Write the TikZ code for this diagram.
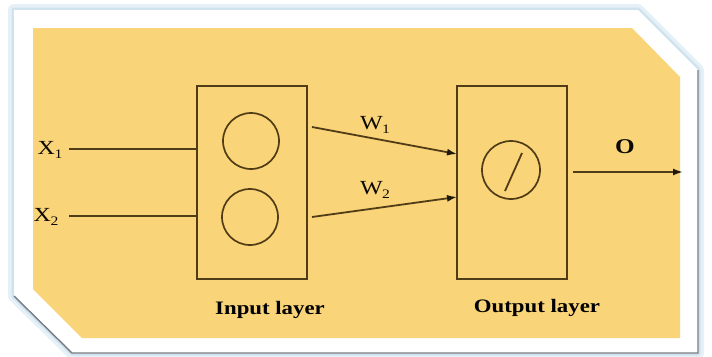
\documentclass[tikz,border=0pt]{standalone}
\usepackage{fontspec}
\setmainfont{Liberation Serif}
\newfontfamily\labfont[FakeStretch=1.2]{Liberation Serif}
\usetikzlibrary{arrows.meta}
\definecolor{paper}{RGB}{250,212,120}
\definecolor{ink}{RGB}{80,60,22}
\definecolor{tipink}{RGB}{30,24,12}
\definecolor{glowA}{RGB}{230,240,247}
\definecolor{glowB}{RGB}{208,226,238}
\definecolor{edge}{RGB}{120,124,130}
\tikzset{
  layerbox/.style={draw=ink, line width=1.8pt, minimum width=110pt, minimum height=193pt, inner sep=0pt},
  neuron/.style={draw=ink, line width=1.7pt, circle, minimum size=56pt, inner sep=0pt},
  wire/.style={draw=ink, line width=1.8pt},
  arrowwire/.style={wire, -{Latex[length=10pt,width=7pt,color=tipink]}},
  lbl/.style={text=black!85!ink, inner sep=0pt, font=\labfont\fontsize{20}{22}\selectfont},
  caption/.style={text=black, inner sep=0pt, font=\labfont\bfseries\fontsize{19}{21}\selectfont}
}
\newcommand{\subidx}[1]{\kern-0.5pt\raisebox{-0.35ex}{\fontsize{13}{13}\selectfont #1}}
\begin{document}
\begin{tikzpicture}[x=1pt,y=-1pt]
\useasboundingbox (0,0) rectangle (712,356);
% frame glow
\draw[glowA, line width=12pt, line join=round] (14,10) -- (638,10) -- (698,70) -- (698,353) -- (72,353) -- (14,296) -- cycle;
\draw[glowB, line width=5pt, line join=round] (14,10) -- (638,10) -- (698,70) -- (698,353) -- (72,353) -- (14,296) -- cycle;
\fill[white] (14,10) -- (638,10) -- (698,70) -- (698,353) -- (72,353) -- (14,296) -- cycle;
\draw[edge, line width=1.4pt] (14,296) -- (72,353) -- (698,353) -- (698,70);
% yellow panel
\fill[paper] (33,28) -- (632,28) -- (680,77) -- (680,338) -- (82,338) -- (33,289) -- cycle;
% layers
\node[layerbox] (inbox) at (252,182.5) {};
\node[layerbox] (outbox) at (512,182.5) {};
\node[neuron] (n1) at (251,141) {};
\node[neuron] (n2) at (250,217) {};
\node[neuron, minimum size=58pt] (n3) at (511,170) {};
\coordinate (sA) at (505,191);
\coordinate (sB) at (522,153);
\draw[wire] (sA) -- (sB);
% inputs
\node[lbl] (x1) at (50,150) {X\subidx{1}};
\node[lbl] (x2) at (46,217) {X\subidx{2}};
\coordinate (i1) at (69,149);
\coordinate (i2) at (69,216);
\draw[wire] (i1) -- (i1 -| inbox.west);
\draw[wire] (i2) -- (i2 -| inbox.west);
% weighted connections
\coordinate (w1s) at (312,127);
\coordinate (w1e) at (457,154);
\coordinate (w2s) at (312,217);
\coordinate (w2e) at (457,197);
\draw[arrowwire] (w1s) -- (w1e);
\draw[arrowwire] (w2s) -- (w2e);
\node[lbl] (w1) at (375,125) {W\subidx{1}};
\node[lbl] (w2) at (375,190) {W\subidx{2}};
% output
\coordinate (os) at (573,172);
\coordinate (oe) at (683,172);
\draw[arrowwire] (os) -- (oe);
\node[lbl, font=\labfont\bfseries\fontsize{21}{23}\selectfont] (o) at (625,147) {O};
% captions
\node[caption] (cin) at (270,310) {Input layer};
\node[caption] (cout) at (537,308) {Output layer};
\end{tikzpicture}
\end{document}
